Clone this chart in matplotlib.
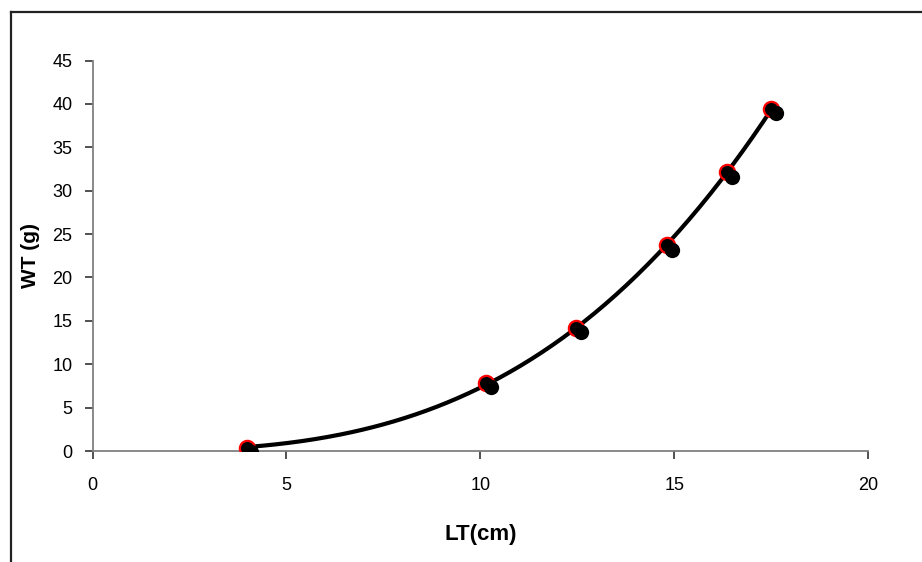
import matplotlib.pyplot as plt
import matplotlib.transforms as mtransforms
import numpy as np

# lengths (cm) and weights (g)
lt_cm = [3.97, 10.14, 12.48, 14.82, 16.37, 17.50]
wt_g = [0.35, 7.8, 14.2, 23.7, 32.1, 39.4]

x_ticks = [0, 5, 10, 15, 20]
y_ticks = [0, 5, 10, 15, 20, 25, 30, 35, 40, 45]

plt.rcParams['font.family'] = ['Liberation Sans', 'DejaVu Sans']

fig = plt.figure(figsize=(9.22, 5.62), dpi=100)
ax = fig.add_axes([0.1005, 0.1975, 0.8409, 0.6948])

# power trendline W = a * L^b (log fit weighted so it follows the big fish too)
b, log_a = np.polyfit(np.log(lt_cm), np.log(wt_g), 1, w=np.array(wt_g))
xs = np.linspace(min(lt_cm), max(lt_cm), 200)
ax.plot(xs, np.exp(log_a) * xs ** b, color='black', lw=3, zorder=2,
        solid_capstyle='round')

# markers: red ring, then black "shadow" slightly down-right on top
ax.plot(lt_cm, wt_g, 'o', ms=11, mfc='black', mec='red', mew=1.6, zorder=3)
shadow = ax.transData + mtransforms.ScaledTranslation(3.5 / 72, -3 / 72, fig.dpi_scale_trans)
ax.plot(lt_cm, wt_g, 'o', ms=11, mfc='black', mec='black', mew=0,
        transform=shadow, zorder=4)
ax.plot(lt_cm, wt_g, 'o', ms=7.5, mfc='black', mec='black', mew=0, zorder=5)

ax.set_xlim(0, 20)
ax.set_ylim(0, 45)
ax.set_xticks(x_ticks)
ax.set_yticks(y_ticks)

for side in ['top', 'right']:
    ax.spines[side].set_visible(False)
for side in ['left', 'bottom']:
    ax.spines[side].set_color('#808080')
    ax.spines[side].set_linewidth(1.3)
ax.tick_params(direction='out', length=5.5, width=1.2, color='#333333',
               labelsize=13, pad=9)
ax.tick_params(axis='x', pad=13)

ax.set_xlabel('LT(cm)', fontsize=16, fontweight='bold', labelpad=22)
ax.set_ylabel('WT (g)', fontsize=15, fontweight='bold', labelpad=9)

# outer chart frame (top and left edges visible in the crop)
top_y = 1 - 12 / 562
left_x = 11 / 922
fig.add_artist(plt.Line2D([left_x, 1.0], [top_y, top_y],
                          transform=fig.transFigure, color='#222222', lw=1.6))
fig.add_artist(plt.Line2D([left_x, left_x], [0, top_y],
                          transform=fig.transFigure, color='#222222', lw=1.6))

fig.savefig('out.png', dpi=100)
